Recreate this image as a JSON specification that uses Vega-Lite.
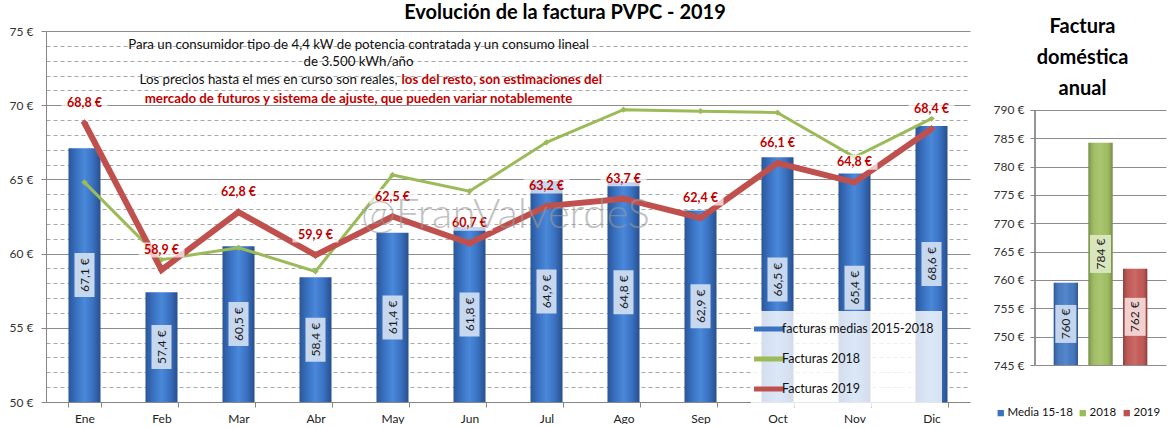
{
  "$schema": "https://vega.github.io/schema/vega-lite/v6.json",
  "background": "white",
  "padding": {"left": 9, "top": 3, "right": 4, "bottom": 0},
  "config": {
    "locale": {"number": {"decimal": ",", "thousands": ".", "grouping": [3], "currency": ["", " €"]}},
    "font": "Lato",
    "view": {"stroke": null},
    "concat": {"spacing": 23}
  },
  "datasets": {
    "medias": [
      {"mes": "Ene", "valor": 67.1}, {"mes": "Feb", "valor": 57.4}, {"mes": "Mar", "valor": 60.5},
      {"mes": "Abr", "valor": 58.4}, {"mes": "May", "valor": 61.4}, {"mes": "Jun", "valor": 61.8},
      {"mes": "Jul", "valor": 64.9}, {"mes": "Ago", "valor": 64.8}, {"mes": "Sep", "valor": 62.9},
      {"mes": "Oct", "valor": 66.5}, {"mes": "Nov", "valor": 65.4}, {"mes": "Dic", "valor": 68.6}
    ],
    "facturas": [
      {"mes": "Ene", "serie": "Facturas 2018", "valor": 64.8},
      {"mes": "Feb", "serie": "Facturas 2018", "valor": 59.6},
      {"mes": "Mar", "serie": "Facturas 2018", "valor": 60.4},
      {"mes": "Abr", "serie": "Facturas 2018", "valor": 58.8},
      {"mes": "May", "serie": "Facturas 2018", "valor": 65.3},
      {"mes": "Jun", "serie": "Facturas 2018", "valor": 64.2},
      {"mes": "Jul", "serie": "Facturas 2018", "valor": 67.5},
      {"mes": "Ago", "serie": "Facturas 2018", "valor": 69.7},
      {"mes": "Sep", "serie": "Facturas 2018", "valor": 69.6},
      {"mes": "Oct", "serie": "Facturas 2018", "valor": 69.5},
      {"mes": "Nov", "serie": "Facturas 2018", "valor": 66.5},
      {"mes": "Dic", "serie": "Facturas 2018", "valor": 69.1},
      {"mes": "Ene", "serie": "Facturas 2019", "valor": 68.8},
      {"mes": "Feb", "serie": "Facturas 2019", "valor": 58.9},
      {"mes": "Mar", "serie": "Facturas 2019", "valor": 62.8},
      {"mes": "Abr", "serie": "Facturas 2019", "valor": 59.9},
      {"mes": "May", "serie": "Facturas 2019", "valor": 62.5},
      {"mes": "Jun", "serie": "Facturas 2019", "valor": 60.7},
      {"mes": "Jul", "serie": "Facturas 2019", "valor": 63.2},
      {"mes": "Ago", "serie": "Facturas 2019", "valor": 63.7},
      {"mes": "Sep", "serie": "Facturas 2019", "valor": 62.4},
      {"mes": "Oct", "serie": "Facturas 2019", "valor": 66.1},
      {"mes": "Nov", "serie": "Facturas 2019", "valor": 64.8},
      {"mes": "Dic", "serie": "Facturas 2019", "valor": 68.4}
    ],
    "anual": [
      {"tipo": "Media 15-18", "valor": 759.5},
      {"tipo": "2018", "valor": 784.2},
      {"tipo": "2019", "valor": 762}
    ]
  },
  "resolve": {"scale": {"color": "independent", "fill": "independent"}, "legend": {"color": "independent"}},
  "hconcat": [
    {
      "width": 924,
      "height": 371,
      "title": {"text": "Evolución de la factura PVPC - 2019", "fontSize": 20, "fontWeight": "bold", "color": "#000000", "anchor": "middle", "dx": 57, "offset": 2},
      "layer": [
        {
          "data": {"name": "medias"},
          "mark": {"type": "bar", "color": {"gradient": "linear", "x1": 0, "x2": 1, "y1": 0, "y2": 0, "stops": [
            {"offset": 0, "color": "#2a5699"}, {"offset": 0.25, "color": "#3a72c2"}, {"offset": 0.5, "color": "#4a88da"}, {"offset": 0.75, "color": "#3a72c2"}, {"offset": 1, "color": "#284f8e"}]}},
          "encoding": {
            "x": {"field": "mes", "type": "nominal",
              "scale": {"domain": ["Ene","Feb","Mar","Abr","May","Jun","Jul","Ago","Sep","Oct","Nov","Dic"], "paddingInner": 0.584, "paddingOuter": 0.292},
              "axis": {"title": null, "labelAngle": 0, "tickBand": "extent", "labelFontSize": 12, "labelColor": "#222222", "labelPadding": 6, "tickSize": 5, "tickColor": "#868686", "domainColor": "#868686", "grid": false}},
            "y": {"field": "valor", "type": "quantitative",
              "scale": {"domain": [50, 75], "nice": false, "zero": false},
              "axis": {"title": null, "values": [50,51,52,53,54,55,56,57,58,59,60,61,62,63,64,65,66,67,68,69,70,71,72,73,74,75], "tickCount": 100,
                "labelExpr": "datum.value % 5 === 0 ? datum.value + ' €' : ''", "labelOverlap": false,
                "labelFontSize": 12, "labelColor": "#333333", "labelPadding": 8, "tickSize": 5, "tickColor": "#868686",
                "tickOpacity": {"condition": {"test": "datum.value % 5 === 0", "value": 1}, "value": 0},
                "domainColor": "#868686", "grid": true,
                "gridColor": {"condition": {"test": "datum.value % 5 === 0", "value": "#8c8c8c"}, "value": "#a8a8a8"},
                "gridDash": {"condition": {"test": "datum.value % 5 === 0", "value": []}, "value": [4, 3]}}},
            "y2": {"datum": 50}
          }
        },
        {
          "data": {"name": "medias"},
          "transform": [{"calculate": "(datum.valor + 50) / 2", "as": "mid"}],
          "mark": {"type": "tick", "orient": "vertical", "size": 44, "thickness": 20, "color": "#cddcf0", "opacity": 0.95},
          "encoding": {"x": {"field": "mes", "type": "nominal"}, "y": {"field": "mid", "type": "quantitative"}}
        },
        {
          "data": {"name": "medias"},
          "transform": [{"calculate": "(datum.valor + 50) / 2", "as": "mid"}],
          "mark": {"type": "text", "angle": 270, "fontSize": 12, "color": "#1a1a1a", "align": "center", "baseline": "middle"},
          "encoding": {"x": {"field": "mes", "type": "nominal"}, "y": {"field": "mid", "type": "quantitative"}, "text": {"field": "valor", "type": "quantitative", "format": "$.1f"}}
        },
        {
          "data": {"name": "facturas"},
          "transform": [{"filter": "datum.serie === 'Facturas 2018'"}],
          "mark": {"type": "line", "strokeWidth": 3, "point": {"shape": "diamond", "filled": true, "size": 40}},
          "encoding": {
            "x": {"field": "mes", "type": "nominal"},
            "y": {"field": "valor", "type": "quantitative"},
            "color": {"field": "serie", "type": "nominal",
              "scale": {"domain": ["facturas medias 2015-2018", "Facturas 2018", "Facturas 2019"], "range": ["#3a72c0", "#9bbb59", "#c0504d"]},
              "legend": {"title": null, "orient": "none", "legendX": 705, "legendY": 280, "padding": 8, "fillColor": "rgba(255,255,255,0.8)",
                "symbolType": "M-2,0H2", "symbolSize": 225, "symbolStrokeWidth": 5, "labelFontSize": 12.5, "labelColor": "#111111", "labelOffset": 3, "rowPadding": 10, "labelLimit": 250}}
          }
        },
        {
          "data": {"name": "facturas"},
          "transform": [{"filter": "datum.serie === 'Facturas 2019'"}],
          "mark": {"type": "line", "strokeWidth": 6, "point": {"shape": "diamond", "filled": true, "size": 60}},
          "encoding": {
            "x": {"field": "mes", "type": "nominal"},
            "y": {"field": "valor", "type": "quantitative"},
            "color": {"field": "serie", "type": "nominal"}
          }
        },
        {
          "data": {"name": "facturas"},
          "transform": [{"filter": "datum.serie === 'Facturas 2019'"}],
          "mark": {"type": "tick", "size": 46, "thickness": 15, "color": "#ffffff", "opacity": 0.7, "yOffset": -20},
          "encoding": {"x": {"field": "mes", "type": "nominal"}, "y": {"field": "valor", "type": "quantitative"}}
        },
        {
          "data": {"name": "facturas"},
          "transform": [{"filter": "datum.serie === 'Facturas 2019'"}],
          "mark": {"type": "text", "fontSize": 12.5, "fontWeight": "bold", "color": "#c00000", "dy": -20, "baseline": "middle"},
          "encoding": {"x": {"field": "mes", "type": "nominal"}, "y": {"field": "valor", "type": "quantitative"}, "text": {"field": "valor", "type": "quantitative", "format": "$.1f"}}
        },
        {
          "data": {"values": [{}]},
          "mark": {"type": "text", "text": "Para un consumidor tipo de 4,4 kW de potencia contratada y un consumo lineal", "fontSize": 13.3, "color": "#111111", "align": "center", "baseline": "middle", "dx": -34},
          "encoding": {"x": {"datum": "May"}, "y": {"datum": 74.06}}
        },
        {
          "data": {"values": [{}]},
          "mark": {"type": "text", "text": "de 3.500  kWh/año", "fontSize": 13.3, "color": "#111111", "align": "center", "baseline": "middle", "dx": -34},
          "encoding": {"x": {"datum": "May"}, "y": {"datum": 72.91}}
        },
        {
          "data": {"values": [{}]},
          "mark": {"type": "text", "text": "Los precios hasta el mes en curso son reales,", "fontSize": 13.3, "color": "#111111", "align": "right", "baseline": "middle", "dx": 5},
          "encoding": {"x": {"datum": "May"}, "y": {"datum": 71.7}}
        },
        {
          "data": {"values": [{}]},
          "mark": {"type": "text", "text": "los del resto, son estimaciones del", "fontSize": 13.3, "fontWeight": "bold", "color": "#c00000", "align": "left", "baseline": "middle", "dx": 9},
          "encoding": {"x": {"datum": "May"}, "y": {"datum": 71.7}}
        },
        {
          "data": {"values": [{}]},
          "mark": {"type": "text", "text": "mercado de futuros y sistema de ajuste, que pueden variar notablemente", "fontSize": 13.3, "fontWeight": "bold", "color": "#c00000", "align": "center", "baseline": "middle", "dx": -34},
          "encoding": {"x": {"datum": "May"}, "y": {"datum": 70.42}}
        },
        {
          "data": {"values": [{}]},
          "mark": {"type": "text", "text": "@FranValverdeS", "fontSize": 42, "fontWeight": 300, "color": "#9a9a9a", "opacity": 0.6, "align": "center", "baseline": "middle", "dx": 36},
          "encoding": {"x": {"datum": "Jun"}, "y": {"datum": 62.6}}
        }
      ]
    },
    {
      "width": 131,
      "height": 334,
      "title": {"text": ["Factura", "doméstica", "anual"], "fontSize": 20, "lineHeight": 31, "fontWeight": "bold", "color": "#000000", "anchor": "middle", "dx": -18, "offset": -68},
      "data": {"name": "anual"},
      "encoding": {
        "x": {"field": "tipo", "type": "nominal", "scale": {"domain": ["Media 15-18", "2018", "2019"], "paddingInner": 0.3, "paddingOuter": 0.54}, "axis": null}
      },
      "layer": [
        {
          "mark": {"type": "bar"},
          "encoding": {
            "y": {"field": "valor", "type": "quantitative", "scale": {"domain": [745, 803.94], "nice": false, "zero": false},
              "axis": {"title": null, "values": [745,750,755,760,765,770,775,780,785,790], "tickCount": 100, "format": "$d", "labelOverlap": false, "labelFontSize": 12, "labelColor": "#333333", "labelPadding": 6, "tickSize": 5, "tickColor": "#868686", "domain": false, "grid": true, "gridColor": "#8c8c8c"}},
            "y2": {"datum": 745},
            "color": {"field": "tipo", "type": "nominal", "scale": {"domain": ["Media 15-18", "2018", "2019"], "range": ["#3a72c0", "#9bbb59", "#c0504d"]},
              "legend": {"title": null, "orient": "none", "legendX": -40, "legendY": 376, "direction": "horizontal", "symbolType": "square", "symbolSize": 40, "labelFontSize": 11.5, "labelColor": "#111111", "labelOffset": 1, "columnPadding": 4}}
          }
        },
        {
          "mark": {"type": "bar", "color": {"gradient": "linear", "x1": 0, "x2": 1, "y1": 0, "y2": 0, "stops": [
            {"offset": 0, "color": "rgba(0,0,0,0.25)"}, {"offset": 0.3, "color": "rgba(255,255,255,0.08)"}, {"offset": 0.5, "color": "rgba(255,255,255,0.15)"}, {"offset": 0.7, "color": "rgba(255,255,255,0.05)"}, {"offset": 1, "color": "rgba(0,0,0,0.28)"}]}},
          "encoding": {"y": {"field": "valor", "type": "quantitative"}, "y2": {"datum": 745}}
        },
        {
          "mark": {"type": "rule", "color": "#868686", "strokeWidth": 1},
          "encoding": {"x": {"datum": "Media 15-18", "bandPosition": -0.771}, "y": {"datum": 745}, "y2": {"datum": 790}}
        },
        {
          "transform": [{"calculate": "(datum.valor + 745) / 2", "as": "mid"}],
          "mark": {"type": "tick", "orient": "vertical", "size": 38, "thickness": 21, "opacity": 0.95},
          "encoding": {"y": {"field": "mid", "type": "quantitative"},
            "fill": {"field": "tipo", "type": "nominal", "scale": {"domain": ["Media 15-18", "2018", "2019"], "range": ["#c9daf0", "#dbe8c2", "#f4d7d6"]}, "legend": null}}
        },
        {
          "transform": [{"calculate": "(datum.valor + 745) / 2", "as": "mid"}],
          "mark": {"type": "text", "angle": 270, "fontSize": 12, "color": "#1a1a1a", "align": "center", "baseline": "middle"},
          "encoding": {"y": {"field": "mid", "type": "quantitative"}, "text": {"field": "valor", "type": "quantitative", "format": "$.0f"}}
        }
      ]
    }
  ]
}
